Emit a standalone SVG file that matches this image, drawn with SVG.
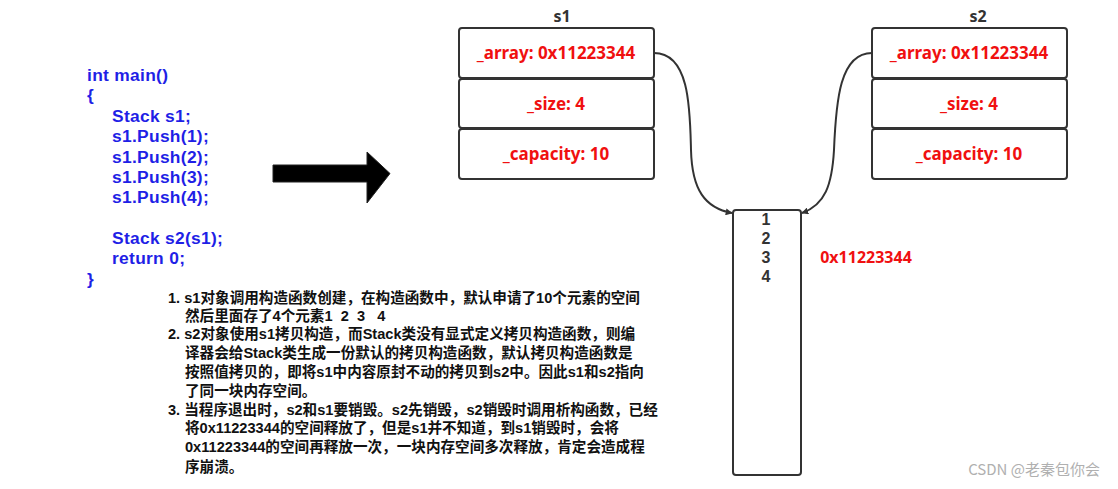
<svg xmlns="http://www.w3.org/2000/svg" width="1118" height="489" viewBox="0 0 1118 489">
<style>
.code{font-family:"Liberation Sans","Noto Sans CJK SC",sans-serif;font-weight:bold;font-size:17.4px;letter-spacing:0.3px;fill:#1f1fe6}
.note{font-family:"Liberation Sans","Noto Sans CJK SC",sans-serif;font-weight:bold;font-size:14.6px;fill:#111;white-space:pre}
.box{fill:#fff;stroke:#333;stroke-width:2}
.field{font-family:"Noto Sans","Noto Sans CJK SC",sans-serif;font-weight:bold;font-size:17px;fill:#f01010;text-anchor:middle}
.addr{font-family:"Noto Sans",sans-serif;font-weight:bold;font-size:16px;fill:#f01010;text-anchor:middle}
.title{font-family:"Noto Sans",sans-serif;font-weight:bold;font-size:16px;fill:#333;text-anchor:middle}
.num{font-family:"Liberation Sans",sans-serif;font-size:16px;fill:#333;text-anchor:middle;font-weight:bold}
.conn{fill:none;stroke:#333;stroke-width:2}
</style>
<defs>
<marker id="ah" viewBox="0 0 10 10" refX="9" refY="5" markerWidth="7" markerHeight="7" orient="auto" markerUnits="userSpaceOnUse">
<path d="M0,0 L10,5 L0,10 z" fill="#333"/>
</marker>
</defs>
<rect width="1118" height="489" fill="#fff"/>
<g id="code">
<text class="code" x="87" y="81">int main()</text>
<text class="code" x="87" y="101.4">{</text>
<text class="code" x="112" y="121.8">Stack s1;</text>
<text class="code" x="112" y="142.2">s1.Push(1);</text>
<text class="code" x="112" y="162.6">s1.Push(2);</text>
<text class="code" x="112" y="183">s1.Push(3);</text>
<text class="code" x="112" y="203.4">s1.Push(4);</text>
<text class="code" x="112" y="244">Stack s2(s1);</text>
<text class="code" x="112" y="264.4">return 0;</text>
<text class="code" x="87" y="284.8">}</text>
</g>
<g id="notes">
<text class="note" x="168" y="303">1. s1对象调用构造函数创建，在构造函数中，默认申请了10个元素的空间</text>
<text class="note" x="185" y="321" xml:space="preserve">然后里面存了4个元素1  2  3   4</text>
<text class="note" x="168" y="339">2. s2对象使用s1拷贝构造，而Stack类没有显式定义拷贝构造函数，则编</text>
<text class="note" x="185" y="358">译器会给Stack类生成一份默认的拷贝构造函数，默认拷贝构造函数是</text>
<text class="note" x="185" y="377">按照值拷贝的，即将s1中内容原封不动的拷贝到s2中。因此s1和s2指向</text>
<text class="note" x="185" y="396">了同一块内存空间。</text>
<text class="note" x="168" y="415">3. 当程序退出时，s2和s1要销毁。s2先销毁，s2销毁时调用析构函数，已经</text>
<text class="note" x="185" y="433">将0x11223344的空间释放了，但是s1并不知道，到s1销毁时，会将</text>
<text class="note" x="185" y="452">0x11223344的空间再释放一次，一块内存空间多次释放，肯定会造成程</text>
<text class="note" x="185" y="472">序崩溃。</text>
</g>
<g id="bigArrow">
<path d="M273,165 L367,165 L367,152 L390,173.5 L367,203 L367,182 L273,182 z" fill="#000" stroke="#222" stroke-width="1"/>
</g>
<g id="s1">
<text class="title" x="562" y="22">s1</text>
<rect class="box" x="459" y="28" width="195" height="50" rx="3"/>
<rect class="box" x="459" y="79" width="195" height="49" rx="3"/>
<rect class="box" x="459" y="129" width="195" height="50" rx="3"/>
<text class="field" x="556" y="59">_array: 0x11223344</text>
<text class="field" x="556" y="110">_size: 4</text>
<text class="field" x="556" y="160">_capacity: 10</text>
</g>
<g id="s2">
<text class="title" x="978" y="22">s2</text>
<rect class="box" x="872" y="28" width="195" height="50" rx="3"/>
<rect class="box" x="872" y="79" width="195" height="49" rx="3"/>
<rect class="box" x="872" y="129" width="195" height="50" rx="3"/>
<text class="field" x="969" y="59">_array: 0x11223344</text>
<text class="field" x="969" y="110">_size: 4</text>
<text class="field" x="969" y="160">_capacity: 10</text>
</g>
<g id="memory">
<rect class="box" x="733" y="210" width="68" height="265" rx="3"/>
<text class="num" x="766" y="225">1</text>
<text class="num" x="766" y="244">2</text>
<text class="num" x="766" y="263">3</text>
<text class="num" x="766" y="282">4</text>
<text class="addr" x="866" y="263">0x11223344</text>
</g>
<g id="connectors">
<path class="conn" d="M654,53 C690,53 690,110 691,150 C692,190 705,208 732,213" marker-end="url(#ah)"/>
<path class="conn" d="M872,53 C840,53 836,100 834,150 C832,185 825,205 802,213" marker-end="url(#ah)"/>
</g>
<text x="1100" y="475" text-anchor="end" font-family="Noto Sans CJK SC, Noto Sans, sans-serif" font-size="15" fill="#b0b0b0">CSDN @老秦包你会</text>
</svg>
